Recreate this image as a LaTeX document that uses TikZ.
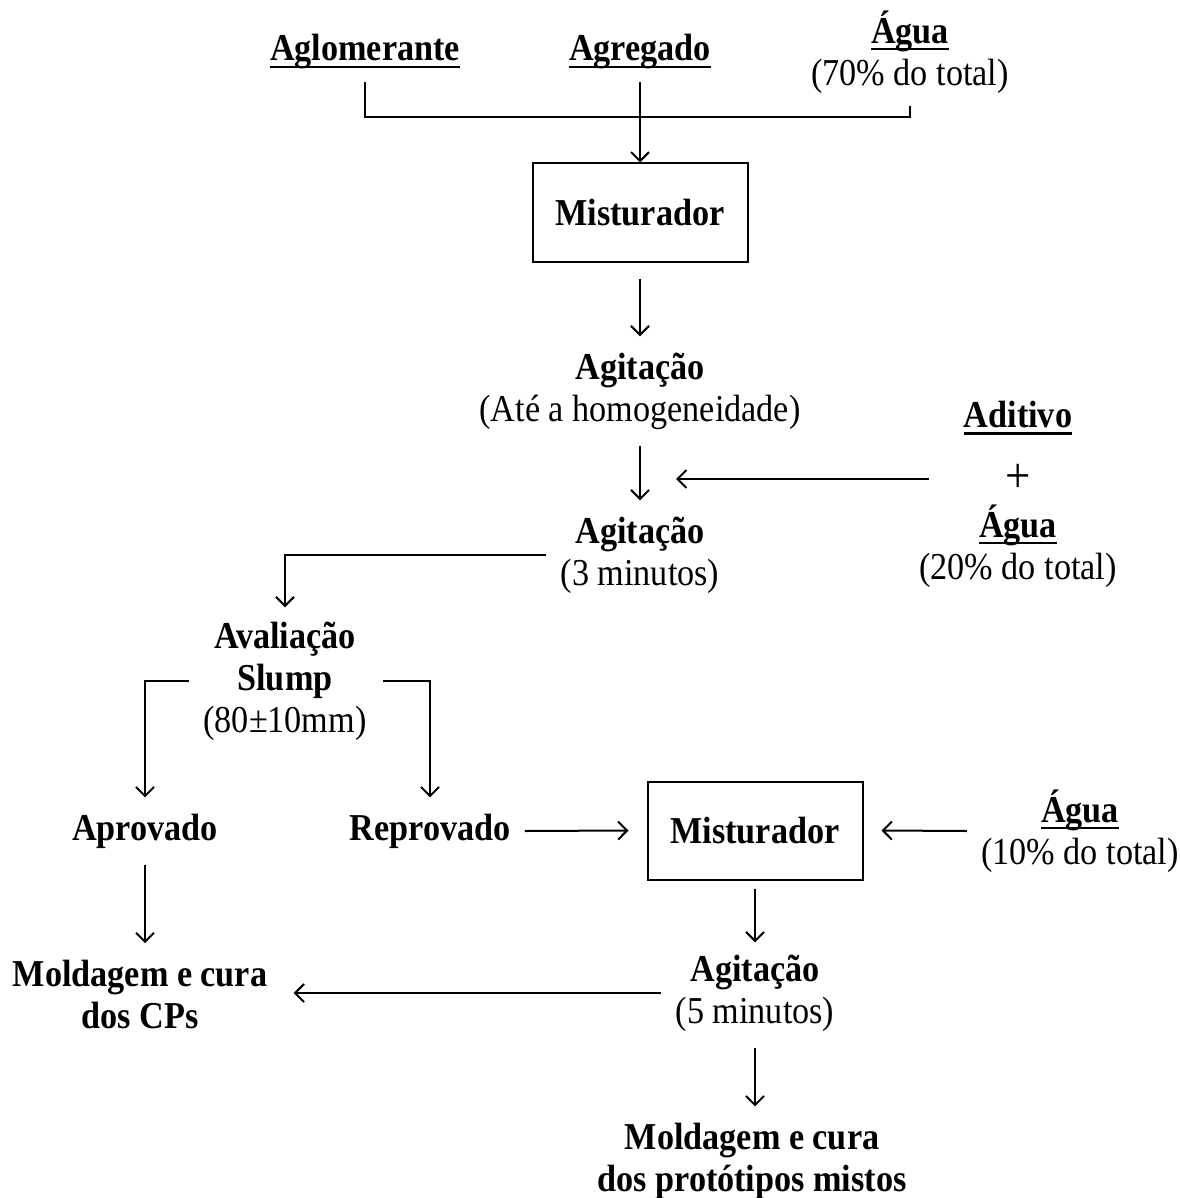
\documentclass[tikz,border=0pt]{standalone}
\usepackage{fontspec}
\setmainfont{Liberation Serif}[FakeStretch=0.9]
\usetikzlibrary{arrows.meta}
\newcommand\myul[1]{\setbox0\hbox{#1}\leavevmode\rlap{\rule[-3.6pt]{\wd0}{1.2pt}}\box0}
\begin{document}
\fontsize{19}{21}\selectfont
\begin{tikzpicture}[x=0.5pt,y=-0.5pt,
  txt/.style={inner sep=0pt, align=center},
  hd/.style={txt, font=\bfseries},
  bx/.style={draw, line width=1pt, inner sep=0pt, minimum width=107.5pt, minimum height=49pt, font=\bfseries},
  arr/.style={-{Straight Barb[length=4.5pt,width=9pt]}, line width=1pt},
  ln/.style={line width=1pt}]
\useasboundingbox (0,0) rectangle (1179,1198);
% top inputs
\node[hd] (aglo) at (365,52) {\myul{Aglomerante}};
\node[hd] (agreg) at (640,52) {\myul{Agregado}};
\node[txt] (agua1) at (910,52) {\textbf{\myul{Água}}\\(70\% do total)};
\coordinate (jn) at (640,117);
% mixer 1
\node[bx] (mix1) at (640,212.5) {Misturador};
\node[txt] (ag1) at (640,391) {\textbf{Agitação}\\(Até a homogeneidade)};
\node[txt] (ag2) at (640,555) {\textbf{Agitação}\\(3 minutos)};
% additive
\node[hd] (adit) at (1018,418) {\myul{Aditivo}};
\node[txt, font=\fontsize{25}{25}\selectfont] (plus) at (1018,478) {+};
\node[txt] (agua2) at (1018,546) {\textbf{\myul{Água}}\\(20\% do total)};
\coordinate (c1) at (676,479);
% slump
\node[txt] (aval) at (285,681) {\textbf{Avaliação}\\\textbf{Slump}\\(80±10mm)};
\node[hd] (aprov) at (145,831) {Aprovado};
\node[hd] (reprov) at (430,831) {Reprovado};
% mixer 2
\node[bx] (mix2) at (755,830.5) {Misturador};
\node[txt] (agua3) at (1080,831) {\textbf{\myul{Água}}\\(10\% do total)};
\node[txt] (ag3) at (755,993) {\textbf{Agitação}\\(5 minutos)};
\node[hd] (mold1) at (140,994) {Moldagem e cura\\dos CPs};
\node[hd] (mold2) at (752,1161) {Moldagem e cura\\dos protótipos mistos};
% connectors
\draw[ln] ([yshift=-6pt]aglo.south) |- (jn) -| ([yshift=-6pt]agua1.south);
\draw[arr] ([yshift=-6pt]agreg.south) -- (mix1.north);
\draw[arr] ([yshift=-8pt]mix1.south) -- ([yshift=8pt]ag1.north);
\draw[arr] ([yshift=-8pt]ag1.south) -- ([yshift=8pt]ag2.north);
\draw[arr] ([xshift=-38pt]plus.west |- c1) -- (c1);
\draw[arr] ([xshift=-7pt]ag2.west) -| ([yshift=7pt]aval.north);
\draw[arr] ([xshift=-7pt]aval.west) -| ([yshift=8pt]aprov.north);
\draw[arr] ([xshift=8pt]aval.east) -| ([yshift=8pt]reprov.north);
\draw[arr] ([xshift=7pt]reprov.east) -- ([xshift=-9pt]mix2.west);
\draw[arr] ([xshift=-7pt]agua3.west) -- ([xshift=9pt]mix2.east);
\draw[arr] ([yshift=-4pt]mix2.south) -- ([yshift=6pt]ag3.north -| mix2.south);
\draw[arr] ([xshift=-7pt]ag3.west) -- ([xshift=13pt]mold1.east |- ag3.west);
\draw[arr] ([yshift=-8pt]aprov.south) -- ([yshift=8pt]mold1.north -| aprov.south);
\draw[arr] ([yshift=-8pt]ag3.south) -- ([yshift=8pt]mold2.north -| ag3.south);
\end{tikzpicture}
\end{document}
